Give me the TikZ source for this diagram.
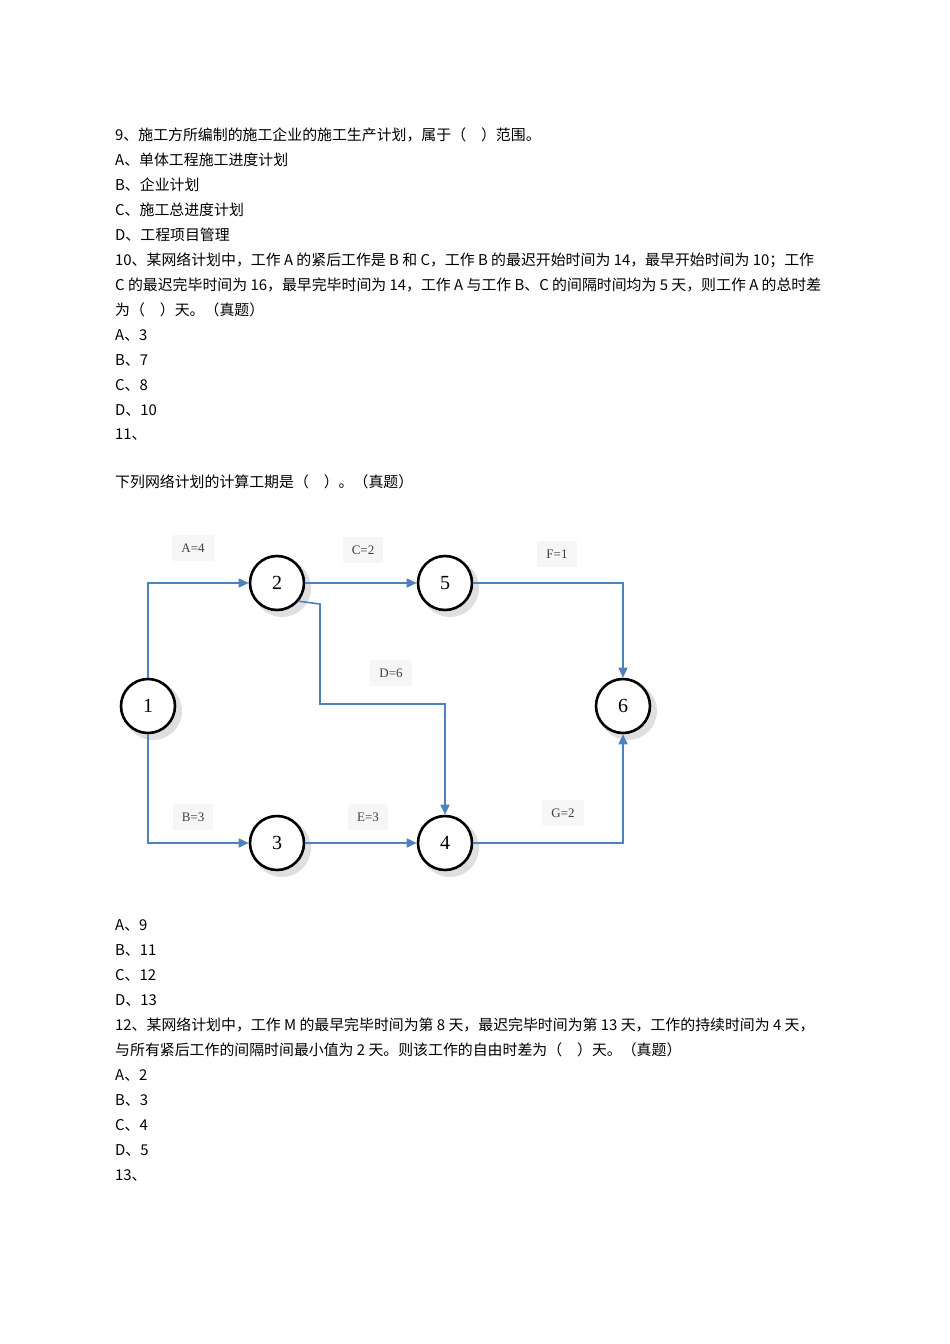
\documentclass[tikz,border=0pt]{standalone}
\usepackage{fontspec}
\setmainfont{Liberation Sans}
\newfontfamily\cjk{Noto Sans CJK SC}
\usetikzlibrary{arrows.meta}
\begin{document}
\begin{tikzpicture}[x=1pt,y=-1pt,
  txt/.style={anchor=west,inner sep=0pt,font=\cjk\fontsize{14.9}{16}\selectfont},
  circ/.style={circle,draw=black,line width=2.6pt,minimum size=54pt,fill=white,font=\fontspec{Liberation Serif}\fontsize{20}{22}\selectfont},
  shad/.style={circle,fill=gray!25,minimum size=58pt},
  edge/.style={draw={rgb,255:red,79;green,129;blue,189},line width=1.6pt,-{Triangle[length=10pt,width=9pt]}},
  lab/.style={fill=gray!7,inner sep=9pt,font=\fontspec{Liberation Serif}\fontsize{13}{15}\selectfont,text=black!75}]
\useasboundingbox (0,0) rectangle (950,1344);
\fill[white] (0,0) rectangle (950,1344);
\foreach \y/\t in {135/{9、施工方所编制的施工企业的施工生产计划，属于（　）范围。},
160/{A、单体工程施工进度计划},185/{B、企业计划},210/{C、施工总进度计划},235/{D、工程项目管理},
260/{10、某网络计划中，工作 A 的紧后工作是 B 和 C，工作 B 的最迟开始时间为 14，最早开始时间为 10；工作},
285/{C 的最迟完毕时间为 16，最早完毕时间为 14，工作 A 与工作 B、C 的间隔时间均为 5 天，则工作 A 的总时差},
310/{为（　）天。（真题）},335/{A、3},360/{B、7},385/{C、8},410/{D、10},435/{11、},
482/{下列网络计划的计算工期是（　）。（真题）},
925/{A、9},950/{B、11},975/{C、12},1000/{D、13},
1025/{12、某网络计划中，工作 M 的最早完毕时间为第 8 天，最迟完毕时间为第 13 天，工作的持续时间为 4 天，},
1050/{与所有紧后工作的间隔时间最小值为 2 天。则该工作的自由时差为（　）天。（真题）},
1075/{A、2},1100/{B、3},1125/{C、4},1150/{D、5},1175/{13、}}
  \node[txt] (t\y) at (115,\y) {\t};
% labels
\node[lab] (la) at (193,548) {A=4};
\node[lab] (lc) at (363,550) {C=2};
\node[lab] (lf) at (557,554) {F=1};
\node[lab] (ld) at (391,673) {D=6};
\node[lab] (lb) at (193,817) {B=3};
\node[lab] (le) at (368,817) {E=3};
\node[lab] (lg) at (563,813) {G=2};
% shadows
\foreach \x/\y in {148/706,277/583,445/583,623/706,277/843,445/843}
  \node[shad] (s\x\y) at (\x+5,\y+5) {};
\node[circ] (n1) at (148,706) {1};
\node[circ] (n2) at (277,583) {2};
\node[circ] (n5) at (445,583) {5};
\node[circ] (n6) at (623,706) {6};
\node[circ] (n3) at (277,843) {3};
\node[circ] (n4) at (445,843) {4};
\draw[edge] (n1.north) |- (n2.west);
\draw[edge] (n1.south) |- (n3.west);
\draw[edge] (n2) -- (n5);
\draw[edge] (n3) -- (n4);
\draw[edge] (n5.east) -| (n6.north);
\draw[edge] (n4.east) -| (n6.south);
\draw[edge] (n2.-40) -- (320,604) -- (320,704) -- (445,704) -- (n4.north);
\end{tikzpicture}
\end{document}
